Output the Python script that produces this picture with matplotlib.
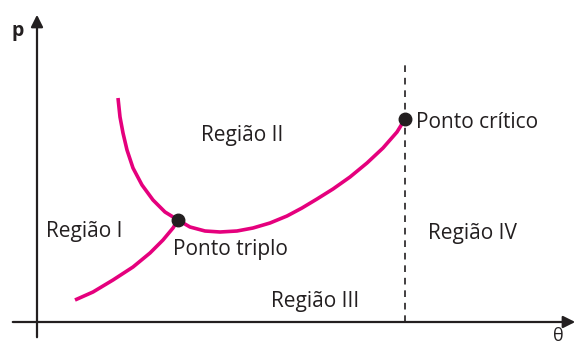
import numpy as np
import matplotlib.pyplot as plt

plt.rcParams['font.family'] = ['Open Sans', 'DejaVu Sans']

# coordinates (theta, p), origin where the axes cross
sublimation_theta = [38, 56, 76, 96, 113, 126, 136, 141]
sublimation_p = [22, 30, 42, 55, 69, 82, 94, 102]

fusion_theta = [81, 83, 86, 90, 96, 105, 116, 128, 141]
fusion_p = [224, 205, 189, 172, 154, 137, 122, 110, 102]

vapor_theta = [141, 153, 168, 183, 200, 216, 233, 250, 265, 280, 296, 313, 330, 346, 360, 368]
vapor_p = [102, 95, 91, 90, 91, 94, 99, 106, 114, 123, 133, 145, 159, 174, 190, 203]

triple_point = (141, 102)
critical_point = (368, 203)

region_labels = ["Região I", "Região II", "Região III", "Região IV"]
region_pos = [(47, 91), (205, 186), (278, 21), (435, 89)]

ink = '#231f20'
magenta = '#e5007d'

fig = plt.figure(figsize=(5.78, 3.45), dpi=100)
ax = fig.add_axes([0, 0, 1, 1])
ax.set_xlim(-37, 541)
ax.set_ylim(-23, 322)
ax.axis('off')

# axes with arrows
ax.annotate('', xy=(-37 + 578, 0), xytext=(-27, 0),
            arrowprops=dict(arrowstyle='-|>', color=ink, lw=1.6, mutation_scale=18))
ax.annotate('', xy=(0, 310), xytext=(0, -18),
            arrowprops=dict(arrowstyle='-|>', color=ink, lw=1.6, mutation_scale=18))
ax.text(-19, 291, 'p', fontsize=14, fontweight='bold', color=ink, ha='center', va='center')
ax.text(521, -14, 'θ', fontsize=13, color=ink, ha='center', va='center')

ax.plot([critical_point[0], critical_point[0]], [0, 257], color=ink, lw=1.2,
        linestyle=(0, (4, 3.5)))

ax.plot(sublimation_theta, sublimation_p, color=magenta, lw=2.6, solid_capstyle='butt')
ax.plot(fusion_theta, fusion_p, color=magenta, lw=2.6, solid_capstyle='butt')
ax.plot(vapor_theta, vapor_p, color=magenta, lw=2.6, solid_capstyle='butt')

ax.plot(*triple_point, 'o', color=ink, ms=9, zorder=5)
ax.plot(*critical_point, 'o', color=ink, ms=9, zorder=5)

for lab, (x, y) in zip(region_labels, region_pos):
    ax.text(x, y, lab, fontsize=15, color=ink, ha='center', va='center')

ax.text(136, 72, 'Ponto triplo', fontsize=15, color=ink, ha='left', va='center')
ax.text(379, 200, 'Ponto crítico', fontsize=15, color=ink, ha='left', va='center')

fig.savefig('out.png', dpi=100)
